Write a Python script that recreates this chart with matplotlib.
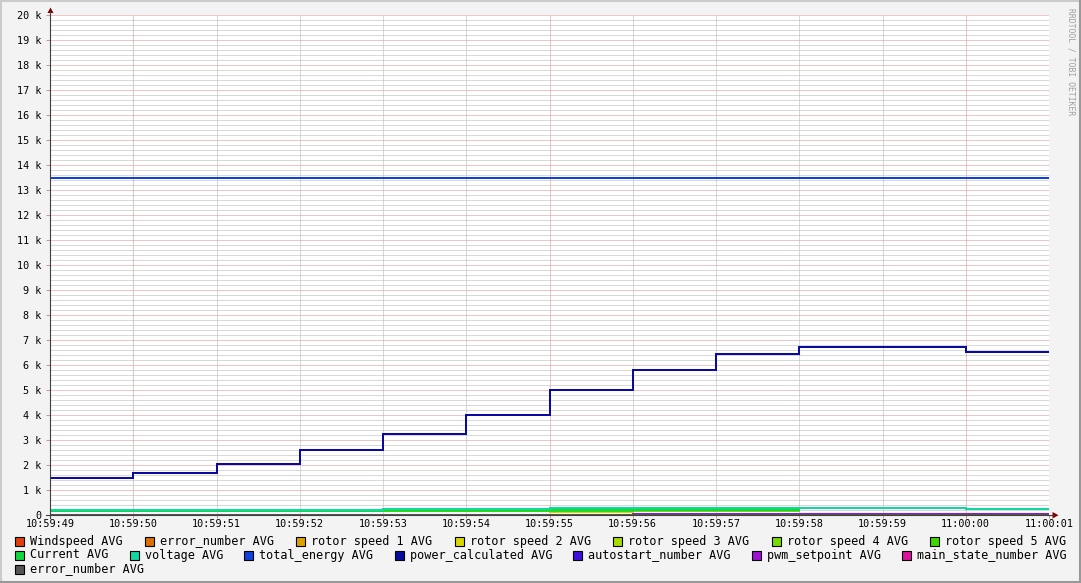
import numpy as np
import matplotlib
matplotlib.use("Agg")
import matplotlib.pyplot as plt
from matplotlib.lines import Line2D
from matplotlib.patches import Polygon, Rectangle
from matplotlib.ticker import FixedLocator, FuncFormatter

# ---------------- data ----------------
tick_labels = ['10:59:49', '10:59:50', '10:59:51', '10:59:52', '10:59:53', '10:59:54',
               '10:59:55', '10:59:56', '10:59:57', '10:59:58', '10:59:59', '11:00:00',
               '11:00:01']
nan = np.nan
# one value per one-second interval (12 intervals)
windspeed = [5, 5, 5, 5, 5, 5, 5, 5, 5, 5, 5, 5]
error_number = [0, 0, 0, 0, 0, 0, 0, 0, 0, 0, 0, 0]
rotor_speed_1 = [nan, nan, nan, nan, nan, nan, 120, nan, nan, nan, nan, nan]
rotor_speed_2 = [nan, nan, nan, nan, nan, nan, 135, nan, nan, nan, nan, nan]
rotor_speed_3 = [nan, nan, nan, nan, 150, 150, 160, 170, 170, nan, nan, nan]
rotor_speed_4 = [nan, nan, nan, nan, 160, 160, 170, 180, 180, nan, nan, nan]
rotor_speed_5 = [nan, nan, nan, nan, 170, 170, 180, 185, 185, nan, nan, nan]
current = [165, 165, 165, 165, 185, 185, 200, 200, 200, nan, nan, nan]
voltage = [220, 220, 220, 220, 260, 260, 300, 300, 300, 300, 300, 260]
total_energy = [13500, 13500, 13500, 13500, 13500, 13500, 13500, 13500, 13500, 13500, 13500, 13500]
power_calculated = [1490, 1680, 2060, 2600, 3260, 4020, 5020, 5820, 6460, 6740, 6740, 6540]
autostart_number = [0, 0, 0, 0, 0, 0, 0, 0, 0, 0, 0, 0]
pwm_setpoint = [20, 20, 20, 20, 20, 20, 20, 50, 50, 50, 50, 50]
main_state_number = [0, 0, 0, 0, 0, 0, 0, 0, 0, 0, 0, 0]
error_number_2 = [0, 0, 0, 0, 0, 0, 0, 0, 0, 0, 0, 0]

series = [
    ("Windspeed AVG", windspeed, '#E0400F'),
    ("error_number AVG", error_number, '#DB7000'),
    ("rotor speed 1 AVG", rotor_speed_1, '#DCA300'),
    ("rotor speed 2 AVG", rotor_speed_2, '#D8D800'),
    ("rotor speed 3 AVG", rotor_speed_3, '#A8DC00'),
    ("rotor speed 4 AVG", rotor_speed_4, '#78DC00'),
    ("rotor speed 5 AVG", rotor_speed_5, '#3CD800'),
    ("Current AVG", current, '#10D840'),
    ("voltage AVG", voltage, '#10D8A0'),
    ("total_energy AVG", total_energy, '#1040E0'),
    ("power_calculated AVG", power_calculated, '#0A0AA0'),
    ("autostart_number AVG", autostart_number, '#4010E0'),
    ("pwm_setpoint AVG", pwm_setpoint, '#A010D8'),
    ("main_state_number AVG", main_state_number, '#E010A0'),
    ("error_number AVG", error_number_2, '#555555'),
]
legend_rows = [[0, 1, 2, 3, 4, 5, 6], [7, 8, 9, 10, 11, 12, 13], [14]]

# ---------------- figure ----------------
W, H = 1081, 583
fig = plt.figure(figsize=(W / 100, H / 100), dpi=100)
fig.patch.set_facecolor('#F3F3F3')

def fx(x):
    return x / W

def fy(y):
    return 1 - y / H

x0, x1, ytop, ybot = 50, 1049, 15, 515
ax = fig.add_axes([fx(x0), fy(ybot), (x1 - x0) / W, (ybot - ytop) / H])
ax.set_facecolor('white')
ax.set_xlim(0, 12)
ax.set_ylim(0, 20000)
for s in ax.spines.values():
    s.set_visible(False)

mono = 'DejaVu Sans Mono'
grid_c = '#B4B4B4'
mgrid_c = '#D89090'

# grid
ax.yaxis.set_major_locator(FixedLocator(np.arange(0, 20001, 1000)))
ax.xaxis.set_major_locator(FixedLocator(np.arange(0, 13, 1)))
for v in np.arange(200, 20001, 200):
    if v % 1000:
        ax.axhline(v, color=grid_c, lw=0.72, ls=(0, (1, 1)), zorder=0)
for v in np.arange(1000, 20001, 1000):
    ax.axhline(v, color=mgrid_c, lw=0.72, ls=(0, (1, 1)), zorder=0.5)
for i in range(1, 13):
    c = mgrid_c if i in (1, 6, 11) else grid_c
    ax.axvline(i, color=c, lw=0.72, ls=(0, (1, 1)), zorder=0.5)

ax.set_xticks(range(13))
ax.set_xticklabels(tick_labels, fontfamily=mono, fontsize=7.3)
ax.yaxis.set_major_formatter(FuncFormatter(lambda v, p: '0' if v == 0 else f'{int(v/1000)} k'))
for lab in ax.get_yticklabels():
    lab.set_fontfamily(mono)
    lab.set_fontsize(7.3)
ax.tick_params(axis='y', which='major', length=3, width=0.72, color=mgrid_c, pad=3,
               labelsize=7.3)
ax.tick_params(axis='x', which='both', length=2, width=0.72, color=mgrid_c, pad=1,
               labelsize=7.3)

# series
edges = np.arange(13)
for z, (name, vals, col) in enumerate(series):
    v = np.array(vals, dtype=float)
    ax.step(edges, np.append(v, v[-1]), where='post', color=col, lw=1.45,
            zorder=2 + z * 0.1, solid_joinstyle='miter')

# axes lines with arrows (figure pixel coords)
axis_c = '#404040'
arrow_c = '#7F0000'
fig.add_artist(Line2D([fx(50), fx(50)], [fy(518), fy(12)], color=axis_c, lw=0.8))
fig.add_artist(Line2D([fx(46), fx(1053)], [fy(515), fy(515)], color=axis_c, lw=0.8))
fig.add_artist(Polygon([[fx(47.5), fy(13)], [fx(53.5), fy(13)], [fx(50.5), fy(7.5)]],
                       closed=True, color=arrow_c, lw=0))
fig.add_artist(Polygon([[fx(1052.5), fy(512)], [fx(1052.5), fy(518.5)], [fx(1058.5), fy(515.2)]],
                       closed=True, color=arrow_c, lw=0))

# side text
fig.text(fx(1071), fy(8), 'RRDTOOL / TOBI OETIKER', rotation=270, ha='center', va='top',
         fontfamily=mono, fontsize=5.8, color='#A0A0A0')

# legend
char_w = 7.1
fs_leg = 8.5
row_y = [541, 555, 569]
left, right = 15, 1066
for r, row in enumerate(legend_rows):
    widths = [15 + len(series[i][0]) * char_w for i in row]
    if len(row) > 1:
        gap = (right - left - sum(widths)) / (len(row) - 1)
    else:
        gap = 0
    x = left
    y = row_y[r]
    for i, wdt in zip(row, widths):
        name, _, col = series[i]
        fig.add_artist(Rectangle((fx(x), fy(y + 4.5)), 9 / W, 9 / H, facecolor=col,
                                 edgecolor='black', lw=0.8))
        fig.text(fx(x + 15), fy(y), name, ha='left', va='center',
                 fontfamily=mono, fontsize=fs_leg, color='black')
        x += wdt + gap

# 3D border
fig.add_artist(Line2D([0, 1], [fy(0.5), fy(0.5)], color='#CBCBCB', lw=1.5))
fig.add_artist(Line2D([fx(0.5), fx(0.5)], [0, 1], color='#CBCBCB', lw=1.5))
fig.add_artist(Line2D([0, 1], [fy(582), fy(582)], color='#999999', lw=1.5))
fig.add_artist(Line2D([fx(1080), fx(1080)], [0, 1], color='#999999', lw=1.5))

fig.savefig('out.png', dpi=100, facecolor=fig.get_facecolor())
